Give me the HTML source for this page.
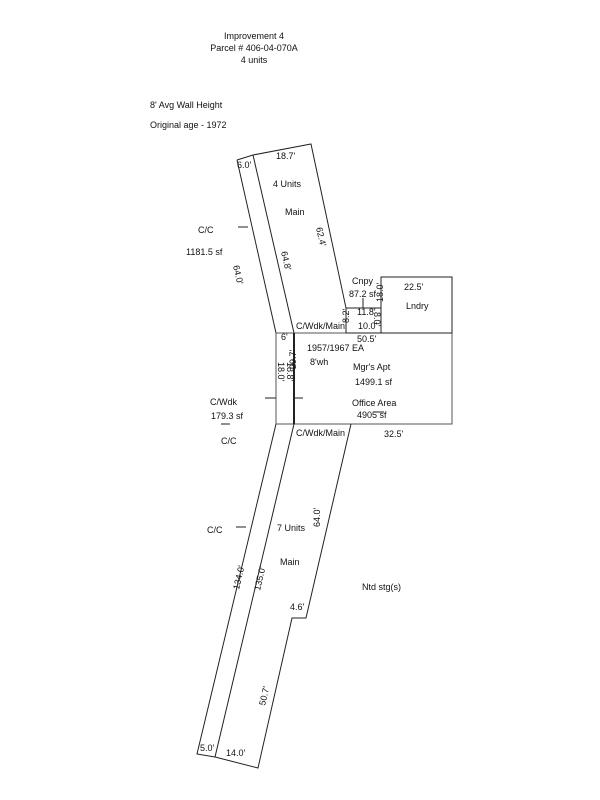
<!DOCTYPE html>
<html><head><style>body{margin:0;background:#fff}svg{display:block}text{font-family:"Liberation Sans",sans-serif;font-size:9px;fill:#111}</style></head>
<body>
<svg width="600" height="800" viewBox="0 0 600 800">
<g fill="none" stroke="#222" stroke-width="1">
<polyline points="237,160 253,155 311,144 346,308 346,333"/>
<line x1="253" y1="155" x2="294" y2="333"/>
<polyline points="237,160 276,333"/>
<rect x="276" y="333" width="176" height="91" stroke="#555"/>
<line x1="294" y1="333" x2="294" y2="424" stroke-width="2"/>
<rect x="346" y="308" width="35" height="25"/>
<rect x="381" y="277" width="71" height="56"/>
<line x1="363" y1="298" x2="363" y2="308"/>
<polyline points="276,424 197,754 215,757 258,768 292,618 306,618 351,424"/>
<line x1="294" y1="424" x2="215" y2="757"/>
<line x1="238" y1="227" x2="248" y2="227"/>
<line x1="265" y1="398" x2="276" y2="398"/>
<line x1="294" y1="398" x2="303" y2="398"/>
<line x1="221" y1="424" x2="230" y2="424"/>
<line x1="236" y1="527" x2="246" y2="527"/>
<line x1="374" y1="412" x2="384" y2="412"/>
</g>
<text x="254" y="39" text-anchor="middle">Improvement 4</text>
<text x="254" y="51" text-anchor="middle">Parcel # 406-04-070A</text>
<text x="254" y="63" text-anchor="middle">4 units</text>
<text x="150" y="108">8' Avg Wall Height</text>
<text x="150" y="128">Original age - 1972</text>
<text x="237" y="168" font-size="8">6.0'</text>
<text x="276" y="159" font-size="8">18.7'</text>
<text x="273" y="187">4 Units</text>
<text x="285" y="215">Main</text>
<text x="198" y="233">C/C</text>
<text x="186" y="255">1181.5 sf</text>
<text x="352" y="284">Cnpy</text>
<text x="349" y="297">87.2 sf</text>
<text x="404" y="290">22.5'</text>
<text x="406" y="309">Lndry</text>
<text x="357" y="315" font-size="8">11.8'</text>
<text x="358" y="329" font-size="8">10.0'</text>
<text x="296" y="329">C/Wdk/Main</text>
<text x="357" y="342">50.5'</text>
<text x="281" y="340" font-size="8">6'</text>
<text x="307" y="351">1957/1967 EA</text>
<text x="310" y="365">8'wh</text>
<text x="353" y="370">Mgr's Apt</text>
<text x="355" y="385">1499.1 sf</text>
<text x="352" y="406">Office Area</text>
<text x="357" y="418">4905 sf</text>
<text x="210" y="405">C/Wdk</text>
<text x="211" y="419">179.3 sf</text>
<text x="221" y="444">C/C</text>
<text x="296" y="436">C/Wdk/Main</text>
<text x="384" y="437">32.5'</text>
<text x="207" y="533">C/C</text>
<text x="277" y="531">7 Units</text>
<text x="280" y="565">Main</text>
<text x="362" y="590">Ntd stg(s)</text>
<text x="290" y="610" font-size="8">4.6'</text>
<text x="200" y="751" font-size="8">5.0'</text>
<text x="226" y="756" font-size="8">14.0'</text>
<g font-size="8">
<text transform="translate(233,266) rotate(77)">64.0'</text>
<text transform="translate(281,252) rotate(77)">64.8'</text>
<text transform="translate(316,228) rotate(77)">62.4'</text>
<text transform="translate(278,362) rotate(90)">18.0'</text>
<text transform="translate(287,362) rotate(90)">18.8'</text>
<text transform="translate(296,369) rotate(-90)">29.7'</text>
<text transform="translate(383,302) rotate(-90)">18.0'</text>
<text transform="translate(374,312) rotate(90)">8.0'</text>
<text transform="translate(349,323) rotate(-90)">8.2'</text>
<text transform="translate(320,527) rotate(-90)">64.0'</text>
<text transform="translate(239,590) rotate(-77)">134.0'</text>
<text transform="translate(260,591) rotate(-77)">135.0'</text>
<text transform="translate(265,706) rotate(-77)">50.7'</text>
</g>
</svg>
</body></html>
